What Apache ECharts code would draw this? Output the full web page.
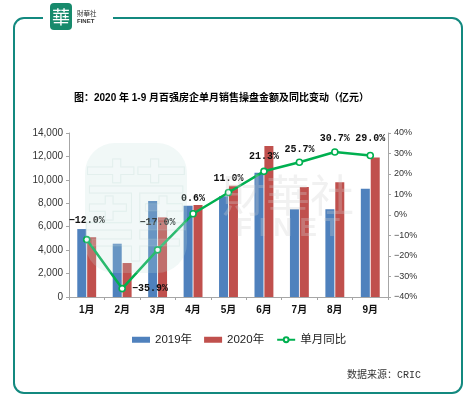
<!DOCTYPE html>
<html><head><meta charset="utf-8">
<script src="https://cdn.jsdelivr.net/npm/echarts@6/dist/echarts.min.js"></script>
<style>html,body{margin:0;padding:0;background:#fff}#c{width:472px;height:408px}</style>
</head><body><div id="c"></div>
<script>
const categories = ['1月','2月','3月','4月','5月','6月','7月','8月','9月'];
const sales2019 = [5800, 4550, 8200, 7800, 8600, 10600, 7500, 7500, 9250];
const sales2020 = [5100, 2900, 6800, 7850, 9500, 12900, 9400, 9800, 11900];
const yoy = [-12.0, -35.9, -17.0, 0.6, 11.0, 21.3, 25.7, 30.7, 29.0];
const leftTicks = [0, 14000, 2000];
const rightTicks = [-40, 40, 10];

const labelPos = ['top','right','top','top','top','top','top','top','top'];
const labelDist = [10, 6, 19, 6, 5, 6, 4, 5, 8];

const chart = echarts.init(document.getElementById('c'), null, {renderer:'canvas'});
const cjk = 'Liberation Sans, "Noto Sans CJK SC", sans-serif';
const axisCol = '#a6a6a6';
chart.setOption({
  animation:false,
  backgroundColor:'#fff',
  title:{text:'图：2020 年 1-9 月百强房企单月销售操盘金额及同比变动（亿元）', left:69, top:88,
    textStyle:{fontSize:10, fontWeight:'bold', color:'#000', fontFamily:cjk}},
  legend:{left:127, top:329, itemWidth:18, itemHeight:6, itemGap:12,
    textStyle:{fontSize:11.5, color:'#222', fontFamily:cjk},
    data:[{name:'2019年', icon:'rect'},{name:'2020年', icon:'rect'},{name:'单月同比'}]},
  grid:{left:69, right:84, top:133, bottom:111, containLabel:false},
  xAxis:{type:'category', data:categories,
    axisLine:{lineStyle:{color:axisCol}},
    axisTick:{show:true, length:3, lineStyle:{color:axisCol}},
    axisLabel:{fontSize:10, fontWeight:'bold', color:'#111', margin:8, fontFamily:cjk}},
  yAxis:[
    {type:'value', min:leftTicks[0], max:leftTicks[1], interval:leftTicks[2],
     axisLine:{show:true, lineStyle:{color:axisCol}},
     axisTick:{show:true, length:3, lineStyle:{color:axisCol}},
     splitLine:{show:false},
     axisLabel:{fontSize:10, color:'#333', margin:6, fontFamily:'Liberation Sans'}},
    {type:'value', min:rightTicks[0], max:rightTicks[1], interval:rightTicks[2], position:'right',
     axisLine:{show:true, lineStyle:{color:axisCol}},
     axisTick:{show:true, length:3, lineStyle:{color:axisCol}},
     splitLine:{show:false},
     axisLabel:{fontSize:9, color:'#333', margin:6, fontFamily:'Liberation Sans',
       formatter:v=>(v<0?'\u2212'+(-v):v)+'%'}}
  ],
  series:[
    {name:'2019年', type:'bar', data:sales2019, barWidth:9, barGap:'10%',
     itemStyle:{color:'#4F81BD'}},
    {name:'2020年', type:'bar', data:sales2020, barWidth:9, barGap:'10%',
     itemStyle:{color:'#C0504D'}},
    {name:'单月同比', type:'line', yAxisIndex:1, z:5,
     data:yoy.map((v,i)=>({value:v, label:{position:labelPos[i], distance:labelDist[i]}})),
     symbol:'circle', symbolSize:6,
     itemStyle:{color:'#fff', borderColor:'#00B050', borderWidth:1.6},
     lineStyle:{color:'#00B050', width:2.5},
     label:{show:true, fontSize:10, fontWeight:'bold', color:'#111', fontFamily:'Liberation Mono',
       formatter:p=>(p.value<0?'\u2212'+(-p.value).toFixed(1):p.value.toFixed(1))+'%'}}
  ],
  graphic:[
    {type:'rect', z:-10, silent:true, shape:{x:14, y:18, width:448, height:375, r:10},
     style:{fill:'none', stroke:'#13897f', lineWidth:2}},
    {type:'rect', z:-9, silent:true, shape:{x:43, y:10, width:70, height:16},
     style:{fill:'#fff'}},
    {type:'rect', z:-8, silent:true, shape:{x:50, y:3, width:22, height:27, r:4},
     style:{fill:'#178a6c'}},
    {type:'text', z:-7, silent:true, style:{x:61, y:17, text:'華', fill:'#fff', font:'18px "Noto Sans CJK TC"', align:'center', verticalAlign:'middle'}},
    {type:'text', z:-7, silent:true, style:{x:77, y:13.5, text:'財華社', fill:'#333', font:'6.5px "Noto Sans CJK TC"', verticalAlign:'middle'}},
    {type:'text', z:-7, silent:true, style:{x:77, y:21, text:'FINET', fill:'#333', font:'bold 6px Liberation Sans', verticalAlign:'middle'}},
    {type:'rect', z:100, silent:true, shape:{x:85, y:143, width:102, height:130, r:30},
     style:{fill:'rgba(190,222,218,0.22)'}},
    {type:'text', z:101, silent:true, style:{x:136, y:210, text:'華', fill:'rgba(255,255,255,0.12)', stroke:'rgba(170,205,200,0.22)', lineWidth:1, font:'110px "Noto Sans CJK TC"', align:'center', verticalAlign:'middle'}},
    {type:'text', z:101, silent:true, style:{x:288, y:195, text:'財華社', fill:'rgba(210,210,210,0.3)', font:'44px "Noto Sans CJK TC"', align:'center', verticalAlign:'middle'}},
    {type:'text', z:101, silent:true, style:{x:288, y:229, text:'F I N E T', fill:'rgba(210,210,210,0.3)', font:'bold 26px Liberation Sans', align:'center', verticalAlign:'middle'}},
    {type:'text', silent:true, style:{x:347, y:375, text:'数据来源：CRIC', fill:'#333', font:'10px "Liberation Mono", "Noto Sans CJK SC"', verticalAlign:'middle'}}
  ]
});
</script></body></html>
